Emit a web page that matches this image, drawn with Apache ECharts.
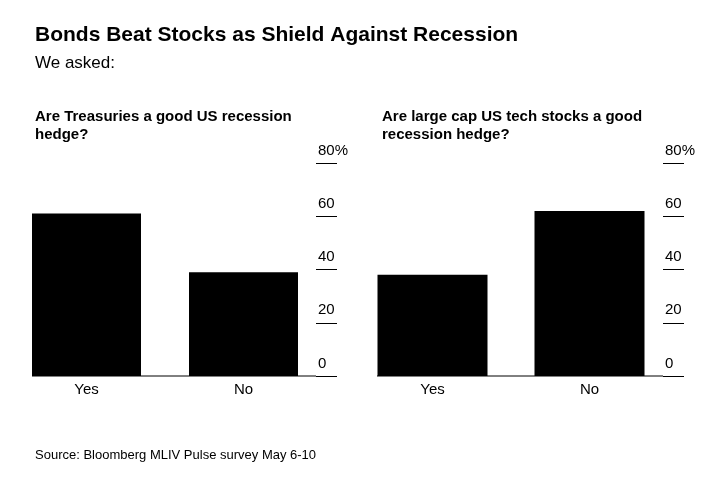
<!DOCTYPE html>
<html><head><meta charset="utf-8">
<script src="https://cdn.jsdelivr.net/npm/echarts@6/dist/echarts.min.js"></script>
<style>body{margin:0;background:#fff}#c{width:721px;height:477px}</style>
</head><body><div id="c"></div>
<script>
var categories = ['Yes', 'No'];
var treasuries = [61, 39];
var techStocks = [38, 62];
var yTicks = [0, 20, 40, 60, 80];

var F = 'Liberation Sans, Arial, sans-serif';
var chart = echarts.init(document.getElementById('c'));

function yAx(gi, off) {
	return {
		type: 'value', gridIndex: gi, position: 'right', offset: off,
		min: 0, max: 80, interval: 20,
		axisLine: {show: false},
		axisTick: {show: true, length: 21, lineStyle: {color: '#000'}},
		splitLine: {show: false},
		axisLabel: {
			margin: 2, align: 'left', verticalAlign: 'bottom', padding: [0, 0, 5, 0],
			color: '#000', fontFamily: F, fontSize: 15,
			formatter: function (v) { return v === 80 ? '80%' : String(v); }
		}
	};
}
function xAx(gi) {
	return {
		type: 'category', gridIndex: gi, data: categories,
		axisLine: {show: false}, axisTick: {show: false},
		axisLabel: {color: '#000', fontFamily: F, fontSize: 15, margin: 6}
	};
}

chart.setOption({
	animation: false,
	title: [
		{text: 'Bonds Beat Stocks as Shield Against Recession', left: 30, top: 20,
		 textStyle: {fontFamily: F, fontSize: 21, fontWeight: 'bold', color: '#000'}},
		{text: 'We asked:', left: 30, top: 50,
		 textStyle: {fontFamily: F, fontSize: 17, fontWeight: 'normal', color: '#000'}},
		{text: 'Are Treasuries a good US recession\nhedge?', left: 30, top: 103,
		 textStyle: {fontFamily: F, fontSize: 15, fontWeight: 'bold', color: '#000', lineHeight: 18}},
		{text: 'Are large cap US tech stocks a good\nrecession hedge?', left: 377, top: 103,
		 textStyle: {fontFamily: F, fontSize: 15, fontWeight: 'bold', color: '#000', lineHeight: 18}},
		{text: 'Source: Bloomberg MLIV Pulse survey May 6-10', left: 30, top: 444,
		 textStyle: {fontFamily: F, fontSize: 13, fontWeight: 'normal', color: '#000'}}
	],
	grid: [
		{left: 8, width: 314, top: 163, height: 213},
		{left: 354, width: 314, top: 163, height: 213}
	],
	xAxis: [xAx(0), xAx(1)],
	yAxis: [yAx(0, -6), yAx(1, -5)],
	series: [
		{type: 'bar', xAxisIndex: 0, yAxisIndex: 0, data: treasuries, barWidth: 109,
		 itemStyle: {color: '#000'}},
		{type: 'bar', xAxisIndex: 1, yAxisIndex: 1, data: techStocks, barWidth: 110,
		 itemStyle: {color: '#000'}}
	],
	graphic: [
		{type: 'line', shape: {x1: 32, y1: 376, x2: 316, y2: 376}, style: {stroke: '#000', lineWidth: 1}},
		{type: 'line', shape: {x1: 377, y1: 376, x2: 663, y2: 376}, style: {stroke: '#000', lineWidth: 1}}
	]
});
</script></body></html>
